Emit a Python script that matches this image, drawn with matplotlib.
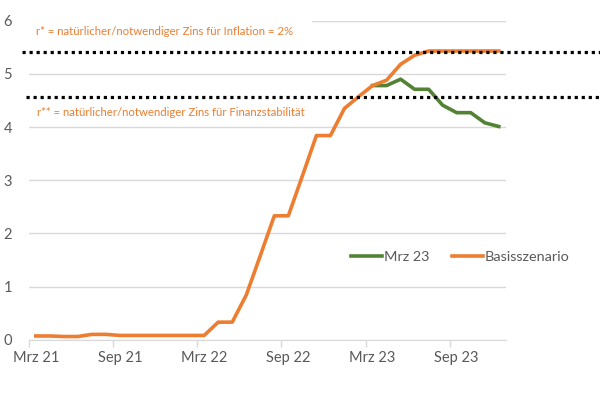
import matplotlib
matplotlib.use('Agg')
import matplotlib.pyplot as plt
from matplotlib.patches import Rectangle

plt.rcParams['font.family'] = ['Lato', 'DejaVu Sans']

# Monatsachse Mrz 21 .. Dez 23 (34 Monate)
monate = ['Mrz 21', 'Apr 21', 'Mai 21', 'Jun 21', 'Jul 21', 'Aug 21', 'Sep 21', 'Okt 21',
          'Nov 21', 'Dez 21', 'Jan 22', 'Feb 22', 'Mrz 22', 'Apr 22', 'Mai 22', 'Jun 22',
          'Jul 22', 'Aug 22', 'Sep 22', 'Okt 22', 'Nov 22', 'Dez 22', 'Jan 23', 'Feb 23',
          'Mrz 23', 'Apr 23', 'Mai 23', 'Jun 23', 'Jul 23', 'Aug 23', 'Sep 23', 'Okt 23',
          'Nov 23', 'Dez 23']

basis = [0.07, 0.07, 0.06, 0.06, 0.10, 0.10, 0.08, 0.08, 0.08, 0.08, 0.08, 0.08,
         0.08, 0.33, 0.33, 0.84, 1.58, 2.33, 2.33, 3.08, 3.84, 3.84, 4.35, 4.57,
         4.78, 4.88, 5.18, 5.35, 5.43, 5.43, 5.43, 5.43, 5.43, 5.43]

# Mrz 23 Szenario beginnt erst im Mrz 23
mrz23_start = 24
mrz23 = [4.78, 4.78, 4.90, 4.71, 4.71, 4.41, 4.27, 4.27, 4.08, 4.01]

r_stern = 5.42
r_stern2 = 4.57

orange = '#ED7D31'
gruen = '#548235'
grau = '#595959'

fig = plt.figure(figsize=(6, 3.95), dpi=100)
ax = fig.add_axes([0.048, 0.14, 0.795, 0.8076])

x = list(range(len(monate)))
x_m = list(range(mrz23_start, mrz23_start + len(mrz23)))

ax.plot(x_m, mrz23, color=gruen, lw=2.6, label='Mrz 23', zorder=3)
ax.plot(x, basis, color=orange, lw=2.6, label='Basisszenario', zorder=4)

ax.axhline(r_stern, xmin=-0.014, xmax=1.2, color='black', ls=(0, (1, 1.2)), lw=2.3,
           clip_on=False, zorder=5)
ax.axhline(r_stern2, xmin=-0.006, xmax=1.2, color='black', ls=(0, (1, 1.2)), lw=2.3,
           clip_on=False, zorder=5)

ax.set_xlim(-0.5, len(monate) - 0.5)
ax.set_ylim(0, 6)
ax.set_yticks(range(0, 7))
ax.yaxis.grid(True, color='#D9D9D9', lw=1)
ax.set_axisbelow(True)

# Gitterlinie bei 6 hinter der Beschriftung ausblenden
ax.add_patch(Rectangle((0, 0.96), 0.594, 0.08, transform=ax.transAxes,
                       facecolor='white', edgecolor='none', clip_on=False, zorder=1))

ax.set_xticks(range(0, len(monate), 6))
ax.set_xticklabels(monate[::6])
ax.set_xticks([i - 0.5 for i in range(0, len(monate), 6)], minor=True)
ax.tick_params(axis='x', which='major', length=0, pad=8, labelsize=10.5, labelcolor=grau)
ax.tick_params(axis='x', which='minor', length=5, color='#D9D9D9', width=1)
ax.tick_params(axis='y', length=0, pad=12, labelsize=10.5, labelcolor=grau)

for s in ['top', 'right', 'left']:
    ax.spines[s].set_visible(False)
ax.spines['bottom'].set_color('#D9D9D9')

ax.text(0.03, 5.8, 'r* = natürlicher/notwendiger Zins für Inflation = 2%', color=orange,
        fontsize=8.2, va='center', ha='left', zorder=6)
ax.text(0.1, 4.27, 'r** = natürlicher/notwendiger Zins für Finanzstabilität', color=orange,
        fontsize=8.2, va='center', ha='left', zorder=6)

ax.legend(loc='center', bbox_to_anchor=(0.905, 0.26), ncol=2, frameon=False,
          fontsize=10.4, handlelength=2.1, handletextpad=0.15, columnspacing=1.6,
          labelcolor=grau)

fig.savefig('out.png', dpi=100)
